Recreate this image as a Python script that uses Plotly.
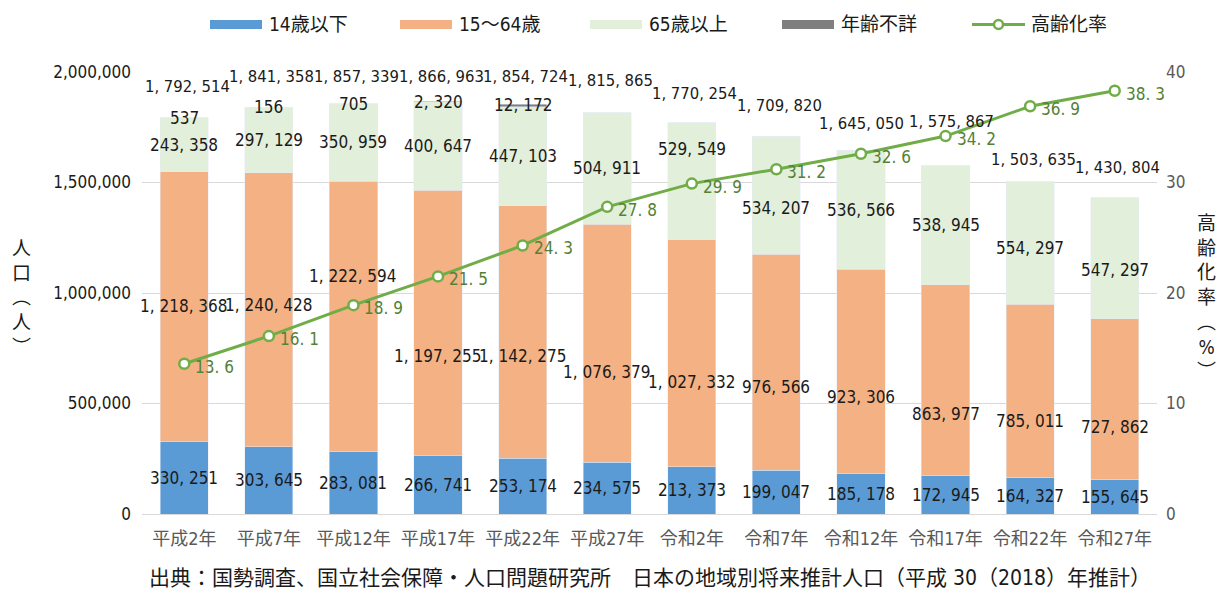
import plotly.graph_objects as go

categories = ["平成2年", "平成7年", "平成12年", "平成17年", "平成22年", "平成27年",
              "令和2年", "令和7年", "令和12年", "令和17年", "令和22年", "令和27年"]
age_0_14 = [330251, 303645, 283081, 266741, 253174, 234575, 213373, 199047, 185178, 172945, 164327, 155645]
age_15_64 = [1218368, 1240428, 1222594, 1197255, 1142275, 1076379, 1027332, 976566, 923306, 863977, 785011, 727862]
age_65_plus = [243358, 297129, 350959, 400647, 447103, 504911, 529549, 534207, 536566, 538945, 554297, 547297]
age_unknown = [537, 156, 705, 2320, 12172, 0, 0, 0, 0, 0, 0, 0]
totals = [1792514, 1841358, 1857339, 1866963, 1854724, 1815865, 1770254, 1709820, 1645050, 1575867, 1503635, 1430804]
aging_rate = [13.6, 16.1, 18.9, 21.5, 24.3, 27.8, 29.9, 31.2, 32.6, 34.2, 36.9, 38.3]

series_names = ["14歳以下", "15〜64歳", "65歳以上", "年齢不詳", "高齢化率"]
series_colors = ["#5B9BD5", "#F4B183", "#E2EFDA", "#7F7F7F", "#70AD47"]

# manual label nudges (pixels, positive = up)
shift_15_64 = [0, 5, 40, -33, -24, -29, -29, -25, -26, -34, -30, -28]
shift_65 = [0, 0, 0, 0, 0, 0, 32, -13, 0, 0, -5, -12]
shift_total = [31, 31, 27, 25, 28, 32, 29, 31, 27, 44, 22, 30]
xshift_total = [3, 3, 3, 3, 3, 3, 3, 3, 1, 6, 3, 3]

FONT = "Liberation Sans Narrow, DejaVu Sans Condensed, Noto Sans CJK JP, sans-serif"
LBL = dict(family=FONT, size=17, color="#1a1a1a")

def fmt(v):
    return "{:,}".format(v).replace(",", ", ")

fig = go.Figure()
for vals, nm, col in zip([age_0_14, age_15_64, age_65_plus, age_unknown], series_names[:4], series_colors[:4]):
    fig.add_bar(x=categories, y=vals, name=nm, marker_color=col, showlegend=False)
fig.add_scatter(x=categories, y=aging_rate, name=series_names[4], yaxis="y2", mode="lines+markers",
                line=dict(color=series_colors[4], width=3), showlegend=False,
                marker=dict(size=10, color="white", line=dict(color=series_colors[4], width=2.5)))

ann = []
for i, c in enumerate(categories):
    b0 = age_0_14[i]
    b1 = b0 + age_15_64[i]
    b2 = b1 + age_65_plus[i]
    ann.append(dict(x=c, y=b0 / 2, text=fmt(age_0_14[i]), showarrow=False, font=LBL, xref="x", yref="y"))
    ann.append(dict(x=c, y=b0 + age_15_64[i] / 2, text=fmt(age_15_64[i]), showarrow=False, font=LBL,
                    yshift=shift_15_64[i], xref="x", yref="y"))
    ann.append(dict(x=c, y=b1 + age_65_plus[i] / 2, text=fmt(age_65_plus[i]), showarrow=False, font=LBL,
                    yshift=shift_65[i], xref="x", yref="y"))
    if age_unknown[i] > 0:
        ann.append(dict(x=c, y=b2 + age_unknown[i] / 2, text=fmt(age_unknown[i]), showarrow=False, font=LBL,
                        xref="x", yref="y"))
    ann.append(dict(x=c, y=totals[i], text=fmt(totals[i]), showarrow=False,
                    font=dict(family=FONT, size=16.5, color="#1a1a1a"),
                    yshift=shift_total[i], xshift=xshift_total[i], xref="x", yref="y"))
    ann.append(dict(x=c, y=aging_rate[i], text="{:.1f}".format(aging_rate[i]).replace(".", ". "),
                    showarrow=False, xanchor="left", xshift=9, yshift=-3,
                    font=dict(family=FONT, size=17, color="#538135"), xref="x", yref="y2"))

ann.append(dict(x=-0.119, y=0.49, xref="paper", yref="paper", showarrow=False,
                xanchor="center", yanchor="middle",
                text="人<br>口<br>︵<br>人<br>︶", font=dict(family=FONT, size=19, color="#1a1a1a")))
ann.append(dict(x=1.049, y=0.49, xref="paper", yref="paper", showarrow=False,
                xanchor="center", yanchor="middle",
                text="高<br>齢<br>化<br>率<br>︵<br>%<br>︶", font=dict(family=FONT, size=19, color="#1a1a1a")))
ann.append(dict(x=0.5, y=-0.145, xref="paper", yref="paper", showarrow=False,
                xanchor="center", yanchor="middle",
                text="出典：国勢調査、国立社会保障・人口問題研究所　日本の地域別将来推計人口（平成 30（2018）年推計）",
                font=dict(family=FONT, size=21, color="#1a1a1a")))

# custom legend (wide swatches like the original)
PL, PW, PT, PH = 134, 1015, 64, 442
def px(v):
    return (v - PL) / PW
def py(v):
    return 1 + (PT - v) / PH

shapes = []
leg_x = [202, 392, 582, 774, 964]
for k, nm in enumerate(series_names):
    x0 = leg_x[k]
    if k < 4:
        shapes.append(dict(type="rect", xref="paper", yref="paper", x0=px(x0), x1=px(x0 + 52),
                           y0=py(21), y1=py(12), fillcolor=series_colors[k], line=dict(width=0)))
    else:
        shapes.append(dict(type="line", xref="paper", yref="paper", x0=px(x0), x1=px(x0 + 53),
                           y0=py(16.5), y1=py(16.5), line=dict(color=series_colors[k], width=3)))
        shapes.append(dict(type="circle", xref="paper", yref="paper", x0=px(x0 + 22), x1=px(x0 + 31),
                           y0=py(21), y1=py(12), fillcolor="white",
                           line=dict(color=series_colors[k], width=2.5)))
    ann.append(dict(x=px(x0 + 57), y=py(16.5), xref="paper", yref="paper", showarrow=False,
                    xanchor="left", yanchor="middle", text=nm,
                    font=dict(family=FONT, size=19, color="#1a1a1a")))

fig.update_layout(
    width=1226, height=589,
    barmode="stack", bargap=0.43,
    plot_bgcolor="white", paper_bgcolor="white",
    margin=dict(l=PL, r=1226 - PL - PW, t=PT, b=589 - PT - PH, autoexpand=False),
    font=dict(family=FONT, size=16, color="#595959"),
    showlegend=False,
    xaxis=dict(showgrid=False, ticks="", tickfont=dict(size=18, color="#595959"),
               range=[-0.5, len(categories) - 0.5], autorange=False, ticklabelstandoff=8,
               showline=True, linecolor="#D9D9D9", linewidth=1),
    yaxis=dict(range=[0, 2000000], dtick=500000, tickformat=",", gridcolor="#D9D9D9",
               zeroline=False, tickfont=dict(size=17, color="#1a1a1a"), ticks="", ticklen=0,
               ticklabelstandoff=10),
    yaxis2=dict(range=[0, 40], dtick=10, overlaying="y", side="right", showgrid=False,
                zeroline=False, tickfont=dict(size=17, color="#595959"), ticklabelstandoff=8),
    annotations=ann,
    shapes=shapes,
)

fig.write_html("out.html")
